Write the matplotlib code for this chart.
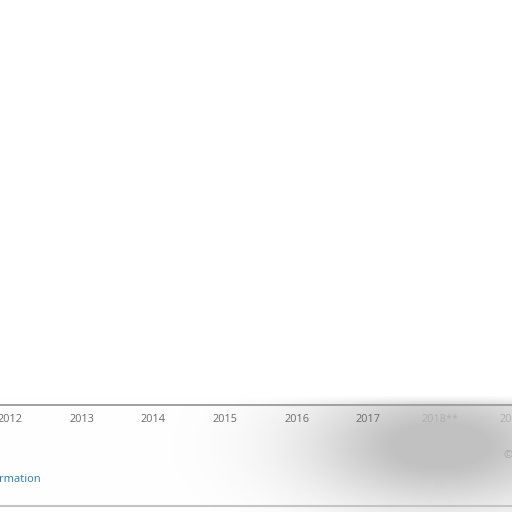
import matplotlib.pyplot as plt
import numpy as np

# Only the year axis survives in the crop; bars are not visible.
years = ["2012", "2013", "2014", "2015", "2016", "2017", "2018**", "2019"]
values = [0, 0, 0, 0, 0, 0, 0, 0]

fig = plt.figure(figsize=(5.12, 5.12), dpi=100)
fig.patch.set_facecolor("white")

# soft grey smear in the lower right corner
bg = fig.add_axes([0, 0, 1, 1], zorder=0)
bg.set_axis_off()
yy, xx = np.mgrid[0:512, 0:512]
blob = np.exp(-(((xx - 440) / 130.0) ** 2 + ((yy - 445) / 60.0) ** 2))
blob = np.clip(blob * 1.15, 0, 1) * np.clip((yy - 395) / 10.0, 0, 1)
img = np.ones((512, 512, 3)) - 0.24 * blob[..., None]
bg.imshow(img, extent=(0, 512, 512, 0), aspect="auto")
bg.set_xlim(0, 512)
bg.set_ylim(512, 0)
bg.plot([0, 512], [405, 405], color="#a0a0a0", lw=1.4)
bg.plot([0, 512], [506, 506], color="#c4c4c4", lw=1.5)
bg.text(-2, 479, "Additional Information", ha="right", va="center",
        fontsize=8, color="#2a7ab8", family="Open Sans")
bg.text(-1, 479, "rmation", ha="left", va="center",
        fontsize=8, color="#2a7ab8", family="Open Sans")
bg.text(503, 456, "©", ha="left", va="center", fontsize=8, color="#aaaaaa",
        family="Open Sans")

ax = fig.add_axes([0, 107 / 512, 1, 1 - 107 / 512], zorder=1)
ax.patch.set_alpha(0)
x = np.arange(len(years))
ax.bar(x, values, width=0.6, color="white")
ax.set_xlim(-10 / 73.8, 502 / 73.8)
ax.set_ylim(0, 1)
ax.set_xticks(x)
ax.set_xticklabels(years, fontsize=7.8, family="Open Sans")
for lbl, c in zip(ax.get_xticklabels(),
                  ["#6a6a6a"] * 6 + ["#b0b0b0", "#b0b0b0"]):
    lbl.set_color(c)
ax.tick_params(axis="x", length=0, pad=6.5)
ax.set_yticks([])
for s in ax.spines.values():
    s.set_visible(False)

plt.savefig("out.png", dpi=100)
